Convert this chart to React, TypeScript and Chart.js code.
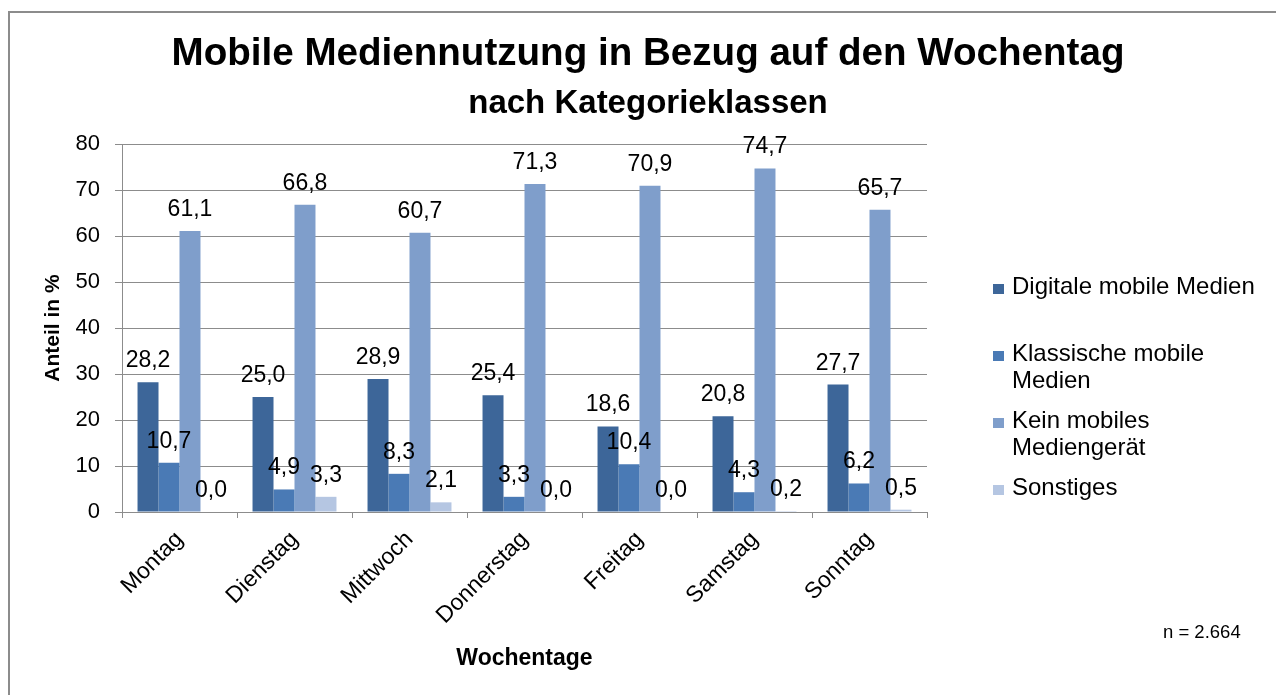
import React, { useEffect, useRef } from "react";
import { Chart, registerables } from "chart.js";

Chart.register(...registerables);

const categories = ["Montag", "Dienstag", "Mittwoch", "Donnerstag", "Freitag", "Samstag", "Sonntag"];
const digitale = [28.2, 25.0, 28.9, 25.4, 18.6, 20.8, 27.7];
const klassische = [10.7, 4.9, 8.3, 3.3, 10.4, 4.3, 6.2];
const keinGeraet = [61.1, 66.8, 60.7, 71.3, 70.9, 74.7, 65.7];
const sonstiges = [0.0, 3.3, 2.1, 0.0, 0.0, 0.2, 0.5];

const seriesNames = ["Digitale mobile Medien", "Klassische mobile Medien", "Kein mobiles Mediengerät", "Sonstiges"];
const legendLines = [["Digitale mobile Medien"], ["Klassische mobile", "Medien"], ["Kein mobiles", "Mediengerät"], ["Sonstiges"]];
const seriesColors = ["#3D6699", "#4A7AB5", "#7F9ECB", "#B5C6E2"];

const titleText = "Mobile Mediennutzung in Bezug auf den Wochentag";
const subtitleText = "nach Kategorieklassen";
const noteText = "n = 2.664";
const yTitle = "Anteil in %";
const xTitle = "Wochentage";

const FONT = "'Liberation Sans', Arial, sans-serif";

const fmt = (v: number) => v.toFixed(1).replace(".", ",");

const decorPlugin = {
  id: "decor",
  afterDatasetsDraw(chart: any) {
    const ctx = chart.ctx;
    ctx.save();
    ctx.fillStyle = "#000";
    ctx.font = `23px ${FONT}`;
    ctx.textAlign = "center";
    ctx.textBaseline = "alphabetic";
    chart.data.datasets.forEach((ds: any, i: number) => {
      const meta = chart.getDatasetMeta(i);
      meta.data.forEach((el: any, j: number) => {
        ctx.fillText(fmt(ds.data[j]), el.x, el.y - 15);
      });
    });
    ctx.restore();
  },
  afterDraw(chart: any) {
    const ctx = chart.ctx;
    const w = chart.width;
    const area = chart.chartArea;
    ctx.save();
    ctx.fillStyle = "#000";
    ctx.textBaseline = "alphabetic";
    ctx.textAlign = "center";
    ctx.font = `bold 38.6px ${FONT}`;
    ctx.fillText(titleText, w / 2, 52);
    ctx.font = `bold 33px ${FONT}`;
    ctx.fillText(subtitleText, w / 2, 100);

    // legend
    ctx.textAlign = "left";
    ctx.font = `24px ${FONT}`;
    const sqX = area.right + 66;
    const txX = area.right + 85;
    let base = 281;
    legendLines.forEach((lines, i) => {
      ctx.fillStyle = seriesColors[i];
      ctx.fillRect(sqX, base - 10, 11, 10);
      ctx.fillStyle = "#000";
      lines.forEach((ln, k) => {
        ctx.fillText(ln, txX, base + k * 27);
      });
      base += 67;
    });

    ctx.font = `18.5px ${FONT}`;
    ctx.fillText(noteText, 1153, 625);
    ctx.restore();
  },
};

export default function App() {
  const ref = useRef<HTMLCanvasElement | null>(null);
  useEffect(() => {
    if (!ref.current) return;
    const datasets = [digitale, klassische, keinGeraet, sonstiges].map((d, i) => ({
      label: seriesNames[i],
      data: d,
      backgroundColor: seriesColors[i],
      borderWidth: 0,
      categoryPercentage: 0.73,
      barPercentage: 1.0,
    }));
    const chart = new Chart(ref.current, {
      type: "bar",
      data: { labels: categories, datasets },
      options: {
        responsive: false,
        animation: false,
        layout: { padding: { left: 31, right: 359, top: 131, bottom: 0 } },
        plugins: {
          legend: { display: false },
          tooltip: { enabled: false },
          title: { display: false },
        },
        scales: {
          x: {
            grid: { display: true, drawOnChartArea: false, offset: true, tickLength: 6, color: "#8c8c8c" },
            border: { color: "#8c8c8c" },
            ticks: {
              color: "#000",
              font: { family: FONT, size: 23 },
              minRotation: 45,
              maxRotation: 45,
              padding: 8,
            },
            title: {
              display: true,
              text: xTitle,
              color: "#000",
              font: { family: FONT, size: 23, weight: "bold" },
              padding: { top: 0, bottom: 23 },
            },
            afterFit: (scale: any) => {
              scale.height = 183;
            },
          },
          y: {
            min: 0,
            max: 80,
            ticks: {
              stepSize: 10,
              color: "#000",
              font: { family: FONT, size: 22 },
              padding: 15,
            },
            grid: { color: "#8c8c8c", tickLength: 7 },
            border: { color: "#8c8c8c" },
            title: {
              display: true,
              text: yTitle,
              color: "#000",
              font: { family: FONT, size: 21, weight: "bold" },
              padding: 0,
            },
            afterFit: (scale: any) => {
              scale.width = 81;
            },
          },
        },
      },
      plugins: [decorPlugin],
    });
    return () => chart.destroy();
  }, []);

  return (
    <div
      style={{
        position: "fixed",
        left: 8,
        top: 11,
        width: 1300,
        height: 700,
        border: "2px solid #8c8c8c",
        overflow: "hidden",
        background: "#fff",
      }}
    >
      <canvas ref={ref} width={1276} height={682} style={{ display: "block" }} />
    </div>
  );
}
